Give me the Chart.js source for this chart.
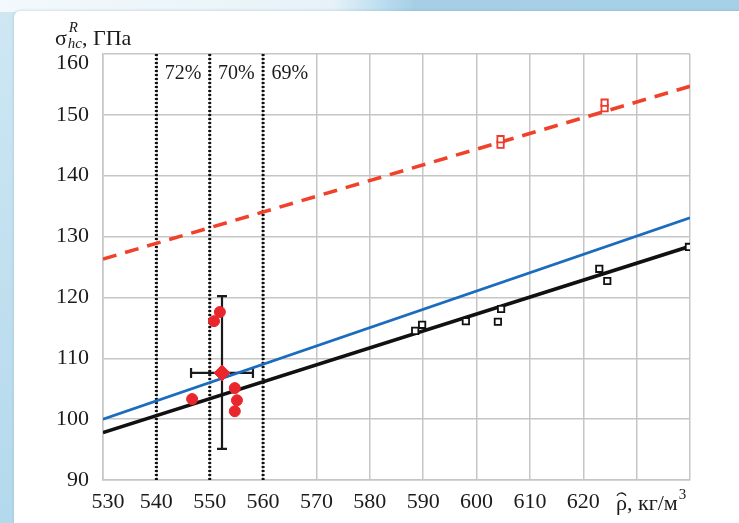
<!DOCTYPE html>
<html><head><meta charset="utf-8">
<script src="https://cdn.jsdelivr.net/npm/chart.js@4"></script>
<style>
html,body{margin:0;padding:0;width:739px;height:523px;overflow:hidden;}
body{position:relative;background:linear-gradient(to bottom,#cfe7f3 0%,#b3d9ec 100%);}
#topbar{position:absolute;left:0;top:0;width:739px;height:12px;background:linear-gradient(100deg,#f3f9fc 0%,#e6f2f8 45%,#b9dcee 52%,#a6cfe6 56%,#a6d0e7 100%);}
#panel{position:absolute;left:14px;top:11px;right:0;bottom:0;background:#fff;border-top-left-radius:6px;box-shadow:0 0 3px rgba(120,160,190,0.5);}
canvas{position:absolute;left:0;top:0;}
</style></head>
<body>
<div id="topbar"></div>
<div id="panel"></div>
<canvas id="c" width="739" height="523" style="width:739px;height:523px"></canvas>
<script>
// ---- data ----
const xTicks = [530,540,550,560,570,580,590,600,610,620,630,640];
const yTicks = [90,100,110,120,130,140,150,160];
const thresholds = [540,550,560];
const thresholdLabels = ['72%','70%','69%'];
const lineX = [530,640];
const redLineY = [126.3,154.7];
const blueLineY = [100.0,133.1];
const blackLineY = [97.8,128.4];
const blackSqX = [588.5,589.8,598.0,604.0,604.6,623.0,624.5,639.8];
const blackSqY = [114.5,115.5,116.1,116.0,118.1,124.7,122.7,128.3];
const redSqX = [604.5,604.5,624.0,624.0];
const redSqY = [145.1,146.0,151.1,152.0];
const redDotX = [551.9,550.8,546.7,554.7,555.1,554.7];
const redDotY = [117.6,116.1,103.3,105.1,103.1,101.3];
const meanX = [552.3], meanY = [107.6];
const errX = [546.5,558.1]; // horizontal error bar range
const errY = [95.1,120.2];  // vertical error bar range

const pts = (xs,ys)=>xs.map((x,i)=>({x,y:ys[i]}));
const FONT = "'Liberation Serif','Times New Roman',serif";
const TXT = '#1b1b1b';
const X0 = xTicks[0], YTOP = yTicks[yTicks.length-1];

const datasets = [
  {data:pts(meanX,meanY),pointStyle:'rectRot',pointRadius:8,backgroundColor:'#e8262b',borderColor:'#e8262b',showLine:false},
  {data:pts(redDotX,redDotY),pointStyle:'circle',pointRadius:5.5,backgroundColor:'#e8262b',borderColor:'#e8262b',showLine:false},
  {data:pts(blackSqX,blackSqY),pointStyle:'rect',pointRadius:4.5,backgroundColor:'#fff',borderColor:'#111',borderWidth:1.8,showLine:false},
  {data:pts(redSqX,redSqY),pointStyle:'rect',pointRadius:4.5,backgroundColor:'#fff',borderColor:'#ee3a2a',borderWidth:1.8,showLine:false},
  {data:pts(lineX,blackLineY),showLine:true,borderColor:'#111',borderWidth:3.6,pointRadius:0},
  {data:pts(lineX,blueLineY),showLine:true,borderColor:'#1b6cbd',borderWidth:2.8,pointRadius:0},
  {data:pts(lineX,redLineY),showLine:true,borderColor:'#f0412a',borderWidth:3.6,borderDash:[14,9],pointRadius:0},
];
thresholds.forEach(t=>datasets.push({data:[{x:t,y:yTicks[0]},{x:t,y:YTOP}],showLine:true,borderColor:'#111',borderWidth:3,borderDash:[2,2],pointRadius:0}));

const deco = {
  id:'deco',
  beforeDatasetsDraw(chart){
    const {ctx,scales:{x,y}} = chart;
    ctx.save();
    ctx.strokeStyle='#1a1a1a';ctx.lineWidth=2.2;
    const cx=x.getPixelForValue(meanX[0]), cy=y.getPixelForValue(meanY[0]);
    const y1=y.getPixelForValue(errY[0]), y2=y.getPixelForValue(errY[1]);
    const x1=x.getPixelForValue(errX[0]), x2=x.getPixelForValue(errX[1]);
    ctx.beginPath();
    ctx.moveTo(cx,y1);ctx.lineTo(cx,y2);
    ctx.moveTo(cx-5,y1);ctx.lineTo(cx+5,y1);
    ctx.moveTo(cx-5,y2);ctx.lineTo(cx+5,y2);
    ctx.moveTo(x1,cy);ctx.lineTo(x2,cy);
    ctx.moveTo(x1,cy-5);ctx.lineTo(x1,cy+5);
    ctx.moveTo(x2,cy-5);ctx.lineTo(x2,cy+5);
    ctx.stroke();
    ctx.restore();
  },
  afterDraw(chart){
    const {ctx,scales:{x,y},chartArea} = chart;
    ctx.save();
    ctx.fillStyle=TXT;
    // edge tick labels nudged inward (as in the reference)
    ctx.font='22px '+FONT;ctx.textBaseline='middle';
    ctx.textAlign='right';
    ctx.fillText(String(YTOP), chartArea.left-14, y.getPixelForValue(YTOP)+9);
    ctx.textAlign='center';
    ctx.fillText(String(X0), x.getPixelForValue(X0)+5, chartArea.bottom+9+13.2);
    // percent labels
    ctx.font='20px '+FONT;ctx.textAlign='center';ctx.textBaseline='middle';
    thresholds.forEach((t,i)=>{
      ctx.fillText(thresholdLabels[i], x.getPixelForValue(t+5), chartArea.top+20);
    });
    // y-axis title: σ^R_hc, ГПа
    ctx.textAlign='left';ctx.textBaseline='alphabetic';
    let px=55, by=45;
    ctx.font='22px '+FONT; ctx.fillText('σ',px,by); px+=ctx.measureText('σ').width+1;
    ctx.font='italic 15px '+FONT; ctx.fillText('R',px+1,by-13);
    ctx.fillText('hc',px,by+3); px+=ctx.measureText('hc').width;
    ctx.font='22px '+FONT; ctx.fillText(', ГПа',px,by);
    // x-axis title: ρ̂, кг/м³
    const bx=616, bb=510;
    ctx.font='22px '+FONT; ctx.fillText('ρ',bx,bb);
    const rw=ctx.measureText('ρ').width;
    ctx.strokeStyle=TXT;ctx.lineWidth=1.3;
    ctx.beginPath();ctx.arc(bx+rw/2,bb-12,rw/2-0.5,Math.PI*1.15,Math.PI*1.85);ctx.stroke();
    let qx=bx+rw;
    ctx.fillText(', кг/м',qx,bb); qx+=ctx.measureText(', кг/м').width;
    ctx.font='15px '+FONT; ctx.fillText('3',qx+1,bb-11);
    ctx.restore();
  }
};

new Chart(document.getElementById('c'),{
  type:'scatter',
  data:{datasets},
  options:{
    responsive:false,devicePixelRatio:1,animation:false,
    layout:{padding:{left:43,right:49,top:54,bottom:0}},
    plugins:{legend:{display:false},tooltip:{enabled:false}},
    scales:{
      x:{type:'linear',min:X0,max:xTicks[xTicks.length-1],
        afterBuildTicks:s=>{s.ticks=xTicks.map(v=>({value:v}));},
        afterFit:s=>{s.height=43;},
        grid:{color:'#c6c6c6',lineWidth:1.5,drawTicks:false},
        border:{color:'#c6c6c6',width:1.5},
        ticks:{autoSkip:false,maxRotation:0,padding:9,color:TXT,font:{family:FONT,size:22},
          callback:v=>(v>=630||v===X0)?'':String(v)}},
      y:{type:'linear',min:yTicks[0],max:YTOP,
        afterBuildTicks:s=>{s.ticks=yTicks.map(v=>({value:v}));},
        afterFit:s=>{s.width=60;},
        grid:{color:'#c6c6c6',lineWidth:1.5,drawTicks:false},
        border:{color:'#c6c6c6',width:1.5},
        ticks:{padding:14,color:TXT,font:{family:FONT,size:22},callback:v=>v===YTOP?'':String(v)}}
    }
  },
  plugins:[deco]
});
</script>
</body></html>
